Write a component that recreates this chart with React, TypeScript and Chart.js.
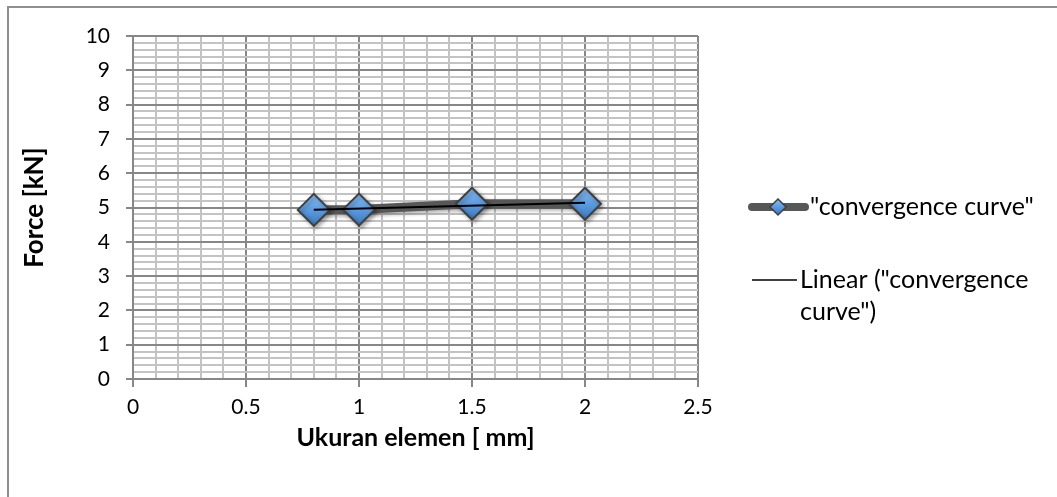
import React, { useEffect, useRef } from "react";
import { Chart, registerables } from "chart.js";

Chart.register(...registerables);

// Mesh convergence study: element size vs. resulting force
const elementSizes = [0.8, 1, 1.5, 2];
const forces = [4.93, 4.94, 5.11, 5.11];

const xMajorTicks = [0, 0.5, 1, 1.5, 2, 2.5];
const yMajorTicks = [0, 1, 2, 3, 4, 5, 6, 7, 8, 9, 10];

const seriesLabel = '"convergence curve"';
const trendLabelLines = ['Linear ("convergence', 'curve")'];
const xTitle = "Ukuran elemen [ mm]";
const yTitle = "Force [kN]";

const FONT = 'Lato, "Liberation Sans", sans-serif';
const MAJOR = "#878787";
const MINOR = "#c3c3c3";
const SERIES_LINE = "#575757";
const MARKER_BORDER = "#3f3f3f";
const MARKER_FLAT = "#5b9be0";

// least-squares fit used for the linear trendline
function linearFit(xs: number[], ys: number[]) {
  const n = xs.length;
  const mx = xs.reduce((a, b) => a + b, 0) / n;
  const my = ys.reduce((a, b) => a + b, 0) / n;
  let sxy = 0;
  let sxx = 0;
  for (let i = 0; i < n; i++) {
    sxy += (xs[i] - mx) * (ys[i] - my);
    sxx += (xs[i] - mx) * (xs[i] - mx);
  }
  const slope = sxy / sxx;
  return { slope, intercept: my - slope * mx };
}

const isOn = (list: number[], v: number) => list.some((m) => Math.abs(m - v) < 1e-6);

function markerGradient(ctx: CanvasRenderingContext2D, cy: number, r: number) {
  if (!Number.isFinite(cy)) return MARKER_FLAT;
  const g = ctx.createLinearGradient(0, cy - r, 0, cy + r);
  g.addColorStop(0, "#8cc0f5");
  g.addColorStop(0.5, "#5b9be0");
  g.addColorStop(1, "#3d79bf");
  return g;
}

function drawDiamond(ctx: CanvasRenderingContext2D, x: number, y: number, r: number) {
  ctx.beginPath();
  ctx.moveTo(x, y - r);
  ctx.lineTo(x + r, y);
  ctx.lineTo(x, y + r);
  ctx.lineTo(x - r, y);
  ctx.closePath();
}

const shadowPlugin = {
  id: "seriesShadow",
  beforeDatasetDraw(chart: any, args: any) {
    if (args.index !== 0) return;
    const ctx = chart.ctx;
    ctx.save();
    ctx.shadowColor = "rgba(0,0,0,0.35)";
    ctx.shadowBlur = 4;
    ctx.shadowOffsetX = 2;
    ctx.shadowOffsetY = 2;
  },
  afterDatasetDraw(chart: any, args: any) {
    if (args.index !== 0) return;
    chart.ctx.restore();
  },
};

const legendPlugin = {
  id: "sideLegend",
  afterDraw(chart: any) {
    const ctx: CanvasRenderingContext2D = chart.ctx;
    ctx.save();
    // series entry
    const y1 = 207;
    ctx.lineCap = "round";
    ctx.strokeStyle = SERIES_LINE;
    ctx.lineWidth = 8;
    ctx.beginPath();
    ctx.moveTo(752, y1);
    ctx.lineTo(805, y1);
    ctx.stroke();
    drawDiamond(ctx, 778, y1, 8);
    ctx.fillStyle = markerGradient(ctx, y1, 8);
    ctx.fill();
    ctx.lineWidth = 1.5;
    ctx.strokeStyle = MARKER_BORDER;
    ctx.stroke();

    // trendline entry
    const y2 = 280;
    ctx.lineCap = "butt";
    ctx.strokeStyle = "#000";
    ctx.lineWidth = 1.5;
    ctx.beginPath();
    ctx.moveTo(752, y2);
    ctx.lineTo(797, y2);
    ctx.stroke();

    ctx.fillStyle = "#000";
    ctx.font = `25px ${FONT}`;
    ctx.textBaseline = "middle";
    ctx.textAlign = "left";
    ctx.fillText(seriesLabel, 810, y1);
    ctx.fillText(trendLabelLines[0], 800, y2);
    ctx.fillText(trendLabelLines[1], 800, y2 + 32);
    ctx.restore();
  },
};

export default function App() {
  const canvasRef = useRef<HTMLCanvasElement | null>(null);

  useEffect(() => {
    const canvas = canvasRef.current;
    if (!canvas) return;
    const { slope, intercept } = linearFit(elementSizes, forces);
    const xMin = Math.min(...elementSizes);
    const xMax = Math.max(...elementSizes);
    const trend = [
      { x: xMin, y: intercept + slope * xMin },
      { x: xMax, y: intercept + slope * xMax },
    ];
    const points = elementSizes.map((x, i) => ({ x, y: forces[i] }));

    const chart = new Chart(canvas, {
      type: "scatter",
      data: {
        datasets: [
          {
            label: seriesLabel,
            data: points,
            showLine: true,
            order: 1,
            borderColor: SERIES_LINE,
            borderWidth: 9,
            borderCapStyle: "round",
            borderJoinStyle: "round",
            pointStyle: "rectRot",
            pointRadius: 16,
            pointHoverRadius: 16,
            pointBorderWidth: 2,
            pointBorderColor: MARKER_BORDER,
            pointBackgroundColor: (c: any) => {
              const ch = c.chart;
              const ys = ch && ch.scales ? ch.scales.y : null;
              if (!c.parsed || !ys) return MARKER_FLAT;
              const cy = ys.getPixelForValue(c.parsed.y);
              return markerGradient(ch.ctx, cy, 16);
            },
          },
          {
            label: trendLabelLines.join(" "),
            data: trend,
            showLine: true,
            order: 0,
            borderColor: "#000000",
            borderWidth: 2,
            pointRadius: 0,
            pointHoverRadius: 0,
          },
        ],
      },
      options: {
        responsive: false,
        animation: false,
        devicePixelRatio: 1,
        events: [],
        layout: { padding: { left: 0, top: 36, right: 359, bottom: 0 } },
        plugins: {
          legend: { display: false },
          tooltip: { enabled: false },
        },
        scales: {
          x: {
            type: "linear",
            min: 0,
            max: 2.5,
            afterFit: (s: any) => {
              s.height = 118;
            },
            ticks: {
              stepSize: 0.1,
              autoSkip: false,
              maxRotation: 0,
              padding: 8,
              color: "#000",
              font: { family: FONT, size: 21 },
              callback: (v: any) => (isOn(xMajorTicks, Number(v)) ? String(Math.round(Number(v) * 10) / 10) : ""),
            },
            grid: {
              color: (c: any) => (c.tick && isOn(xMajorTicks, c.tick.value) ? MAJOR : MINOR),
              lineWidth: 2,
              tickLength: 8,
              tickColor: (c: any) => (c.tick && isOn(xMajorTicks, c.tick.value) ? MAJOR : "rgba(0,0,0,0)"),
              tickWidth: 2,
            },
            border: { color: MAJOR, width: 2 },
            title: {
              display: true,
              text: xTitle,
              color: "#000",
              font: { family: FONT, size: 25, weight: "bold" },
              padding: { top: 0, bottom: 44 },
            },
          },
          y: {
            type: "linear",
            min: 0,
            max: 10,
            afterFit: (s: any) => {
              s.width = 133;
            },
            ticks: {
              stepSize: 0.2,
              autoSkip: false,
              padding: 16,
              color: "#000",
              font: { family: FONT, size: 21 },
              callback: (v: any) => (isOn(yMajorTicks, Number(v)) ? String(Math.round(Number(v))) : ""),
            },
            grid: {
              color: (c: any) => (c.tick && isOn(yMajorTicks, c.tick.value) ? MAJOR : MINOR),
              lineWidth: 2,
              tickLength: 7,
              tickColor: (c: any) => (c.tick && isOn(yMajorTicks, c.tick.value) ? MAJOR : "rgba(0,0,0,0)"),
              tickWidth: 2,
            },
            border: { color: MAJOR, width: 2 },
            title: {
              display: true,
              text: yTitle,
              color: "#000",
              font: { family: FONT, size: 26, weight: "bold" },
              padding: { top: 19, bottom: 0 },
            },
          },
        },
      },
      plugins: [shadowPlugin, legendPlugin],
    });
    return () => chart.destroy();
  }, []);

  return (
    <div style={{ position: "fixed", left: 0, top: 0, width: 1057, height: 497, background: "#fff" }}>
      <div
        style={{
          position: "absolute",
          left: 7,
          top: 6,
          width: 1200,
          height: 600,
          borderLeft: "2px solid #8f8f8f",
          borderTop: "2px solid #8f8f8f",
        }}
      />
      <canvas
        ref={canvasRef}
        width={1057}
        height={497}
        style={{ position: "absolute", left: 0, top: 0, width: 1057, height: 497 }}
      />
    </div>
  );
}
